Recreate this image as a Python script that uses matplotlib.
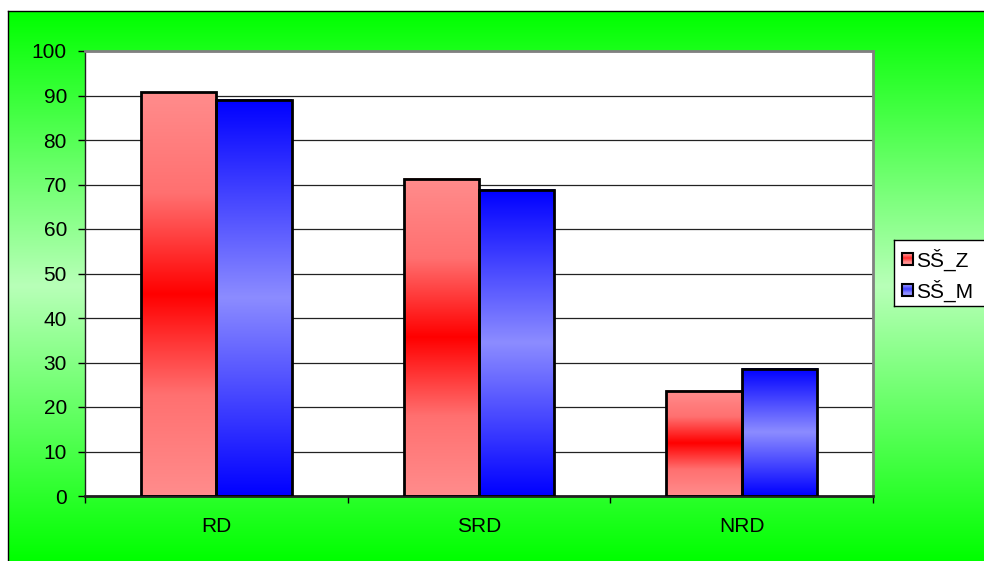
#!/usr/bin/env python3
"""Grouped bar chart: SŠ_Z vs SŠ_M shares for RD / SRD / NRD."""

import numpy as np
import matplotlib
matplotlib.use("Agg")
import matplotlib.pyplot as plt
from matplotlib.colors import LinearSegmentedColormap
from matplotlib.patches import Rectangle

plt.rcParams.update({
    "font.family": ["Liberation Sans", "DejaVu Sans"],
    "font.size": 15,
})

# ── Data ────────────────────────────────────────────────────────────────
categories = ["RD", "SRD", "NRD"]
series_names = ["SŠ_Z", "SŠ_M"]
values_z = [90.7, 71.3, 23.6]
values_m = [89.1, 68.8, 28.6]
y_ticks = list(range(0, 101, 10))

# bar fills: edge colour -> centre colour -> edge colour (vertical)
red_cmap = LinearSegmentedColormap.from_list(
    "red_band", ["#ff8c8c", "#ff7070", "#ff0000", "#ff7070", "#ff8c8c"])
blue_cmap = LinearSegmentedColormap.from_list(
    "blue_band", ["#0000ff", "#8c8cff", "#0000ff"])
bg_cmap = LinearSegmentedColormap.from_list(
    "bg_band", ["#00ff00", "#b8ffb8", "#00ff00"])

W, H = 984, 561
fig = plt.figure(figsize=(W / 100, H / 100), dpi=100)
fig.patch.set_facecolor("white")


def px_rect(x0, y0, x1, y1):
    """Figure-fraction rect from pixel coords measured from the top-left."""
    return [x0 / W, (H - y1) / H, (x1 - x0) / W, (y1 - y0) / H]


# ── Green backdrop with thin black frame ───────────────────────────────
bg = fig.add_axes(px_rect(8, 11, W, H))
grad = np.linspace(0, 1, 256).reshape(-1, 1)
bg.imshow(grad, cmap=bg_cmap, aspect="auto", extent=(0, 1, 0, 1))
bg.set_xlim(0, 1)
bg.set_ylim(0, 1)
bg.set_xticks([])
bg.set_yticks([])
for side in ("right", "bottom"):
    bg.spines[side].set_visible(False)
for side in ("left", "top"):
    bg.spines[side].set_linewidth(1.0)
    bg.spines[side].set_color("black")

# ── Plot area ──────────────────────────────────────────────────────────
ax = fig.add_axes(px_rect(85, 51, 873, 496))
ax.set_facecolor("white")

ax.set_yticks(y_ticks)
ax.yaxis.grid(True, color="#222222", linewidth=0.9)
ax.set_axisbelow(True)
ax.tick_params(axis="y", direction="out", length=5, width=1, pad=8,
               color="black", labelsize=15)

# category labels at group centres, tick marks at group boundaries
ax.set_xticks(np.arange(len(categories)) + 0.5)
ax.set_xticklabels(categories)
ax.set_xticks(np.arange(len(categories) + 1), minor=True)
ax.tick_params(axis="x", which="major", length=0, pad=15, labelsize=15)
ax.tick_params(axis="x", which="minor", direction="out", length=5,
               width=1, color="black")

for side in ("top", "right"):
    ax.spines[side].set_color("#808080")
    ax.spines[side].set_linewidth(2)
ax.spines["left"].set_color("#202020")
ax.spines["left"].set_linewidth(1)
ax.spines["bottom"].set_color("#202020")
ax.spines["bottom"].set_linewidth(2)

bar_w = 0.287
band = np.linspace(0, 1, 256).reshape(-1, 1)
for i in range(len(categories)):
    centre = i + 0.5
    for x0, h, cmap in ((centre - bar_w, values_z[i], red_cmap),
                        (centre, values_m[i], blue_cmap)):
        ax.imshow(band, cmap=cmap, aspect="auto",
                  extent=(x0, x0 + bar_w, 0, h), zorder=2,
                  interpolation="bilinear")
        ax.add_patch(Rectangle((x0, 0), bar_w, h, facecolor="none",
                               edgecolor="black", linewidth=2.0, zorder=3))
ax.set_xlim(0, 3)
ax.set_ylim(0, 100)

# ── Legend box, running off the right edge ─────────────────────────────
lg = fig.add_axes(px_rect(894, 240, W + 10, 306))
lg.set_facecolor("white")
lg.set_xticks([])
lg.set_yticks([])
for side in lg.spines.values():
    side.set_color("black")
    side.set_linewidth(1.0)

swatches = [("#ff2a2a", "#ff9090"), ("#4040ff", "#9090ff")]
for k, (name, (dark, light)) in enumerate(zip(series_names, swatches)):
    yc = 258.5 + 31 * k
    lg.imshow(np.array([[0.0], [1.0], [0.0]]),
              cmap=LinearSegmentedColormap.from_list("sw", [light, dark]),
              aspect="auto", extent=(902, 913, yc + 6, yc - 6),
              interpolation="bilinear", zorder=2)
    lg.add_patch(Rectangle((902, yc - 6), 11, 12, facecolor="none",
                           edgecolor="black", linewidth=1.5, zorder=3))
    lg.text(916, yc + 1, name, va="center", ha="left", fontsize=15)
lg.set_xlim(894, W + 10)
lg.set_ylim(306, 240)

fig.savefig("out.png", dpi=100)
